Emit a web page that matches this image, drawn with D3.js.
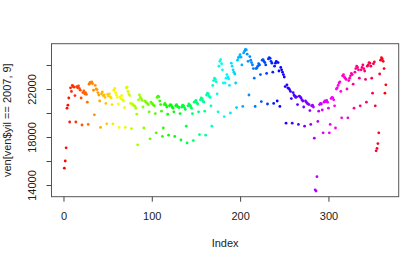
<!DOCTYPE html>
<html>
<head>
<meta charset="utf-8">
<script src="https://cdn.jsdelivr.net/npm/d3@7.9.0/dist/d3.min.js"></script>
<style>
  body { margin: 0; background: #fff; }
  svg text { font-family: "Liberation Sans", Arial, sans-serif; fill: #222; }
</style>
</head>
<body>
<svg id="chart" width="408" height="259"></svg>
<script>
// daily values for 2007, one array per month
const jan = [15400,16000,17100,20400,20650,21250,19250, 22100,21800,22300,22200,22150,21450,19250,
  22200,22100,22250,22050,21900,21250,19000, 21700,21850,21600,21700,21550,20900,19050, 22400,22550,22500];
const feb = [22600,22450,21900,19850, 22300,22000,21950,21700,21500,21000,18800,
  21600,21750,21450,21500,21300,20800,19100, 21550,21400,21600,21350,21250,20700,19100, 21900,22050,21700];
const mar = [21500,21300,20750,18800, 21350,21200,21450,21100,21000,20450,18800,
  22100,22150,21800,21600,21450,20800,18700, 20750,20650,20600,20550,20400,19900,17350,
  21100,21500,21300,21200,21050,20500];
const apr = [18750, 21000,20950,20850,20800,20700,20100,17850, 20900,20800,20750,20650,20600,19950,18350,
  21300,21400,21350,21000,20700,20150,18050, 18750,20700,20800,20650,20500,19900,18150, 20600];
const may = [20700,20650,20500,20400,20100,18050, 20600,20700,20550,20500,20450,19950,17750,
  20500,20650,20600,20450,20300,18900,17500, 20600,20750,20650,20550,20400,19950,17700, 20900,20950,21050,20850];
const jun = [20750,20100,18200, 21100,21250,21200,21000,20900,20150,18150,
  21500,21650,21600,21400,21300,20600,18900, 22300,22700,22900,22800,22600,21600,20100,
  23900,24300,24450,24100,23600,22500];
const jul = [19700, 22500,22900,23200,23000,22850,22300,20000, 24150,23900,23600,23400,23250,22500,20450,
  24400,24600,24700,24850,24650,24000,20550, 25000,25150,25300,25250,24900,24300,21500, 24700,24400];
const aug = [24200,24000,23700,22900,20550, 23700,23750,23900,24100,24000,23200,20950,
  24400,24450,24300,24200,24000,23300,20750, 24500,24600,24550,24300,24150,23400,20800,
  23900,24150,24300,21000,24200];
const sep = [23500,20550, 23800,23600,23400,23200,23000,22200,19150, 22350,22100,22050,21950,21800,21200,19150,
  21700,21500,21400,21300,21350,20700,19050, 21400,21350,21250,21100,21000,20500,18900];
const oct = [21000,20900,20800,20750,20700,20200,19050, 20600,20650,20500,17900,13600,13500,14700,
  19300,20150,20700,20800,20750,20250,18350, 20900,21000,20950,21050,20900,20400,18350, 19050,21200,21300];
const nov = [21250,21100,20600,18750, 22000,22100,22300,22500,22600,21800,19600,
  23100,23200,23000,22900,22800,22000,19600, 22700,22900,23100,23300,23200,22400,20400,
  23400,23700,23900,23800,23600];
const dec = [22900,20600, 23600,23800,24000,23700,23500,22800,20900, 23900,24000,24200,24150,23900,22900,21650,
  24100,24250,20600,16850,17050,17450,18350, 23250,24400,24600,24500,24300,23700,21650, 22350];

const xTicks = [0, 100, 200, 300];
const yTicks = [14000, 16000, 18000, 20000, 22000, 24000];
const yLabelled = [14000, 18000, 22000];

const values = [].concat(jan, feb, mar, apr, may, jun, jul, aug, sep, oct, nov, dec);
const data = values.map((v, i) => ({ index: i + 1, value: v }));

// plot region (R style, 4% padding on both axes)
const box = { left: 51.5, top: 43.7, right: 398.7, bottom: 196.7 };
const pad = (lo, hi) => [lo - 0.04 * (hi - lo), hi + 0.04 * (hi - lo)];

const x = d3.scaleLinear()
  .domain(pad(1, data.length))
  .range([box.left, box.right]);
const yExt = d3.extent(values);
const y = d3.scaleLinear()
  .domain(pad(yExt[0], yExt[1]))
  .range([box.bottom, box.top]);

const n = data.length;
const color = i => d3.hsl(360 * i / n, 1, 0.5).toString();

const svg = d3.select('#chart');

// points
svg.append('g')
  .selectAll('circle')
  .data(data)
  .join('circle')
  .attr('cx', d => x(d.index))
  .attr('cy', d => y(d.value))
  .attr('r', 1.4)
  .attr('fill', (d, i) => color(i));

// box
svg.append('rect')
  .attr('x', box.left)
  .attr('y', box.top)
  .attr('width', box.right - box.left)
  .attr('height', box.bottom - box.top)
  .attr('fill', 'none')
  .attr('stroke', '#555')
  .attr('stroke-width', 1);

// x axis
const xAxis = svg.append('g')
  .attr('transform', `translate(0,${box.bottom})`)
  .call(d3.axisBottom(x).tickValues(xTicks).tickSize(5).tickFormat(d3.format('d')));
xAxis.select('.domain').remove();
xAxis.selectAll('line').attr('stroke', '#444');
xAxis.selectAll('text')
  .attr('y', 19.5)
  .attr('dy', '0.35em')
  .attr('font-size', 11)
  .attr('fill', '#222');

// y axis
const yAxis = svg.append('g')
  .attr('transform', `translate(${box.left},0)`)
  .call(d3.axisLeft(y).tickValues(yTicks).tickSize(5)
    .tickFormat(d => yLabelled.includes(d) ? String(d) : ''));
yAxis.select('.domain').remove();
yAxis.selectAll('line').attr('stroke', '#444');
yAxis.selectAll('text')
  .attr('x', null)
  .attr('dy', null)
  .attr('text-anchor', 'middle')
  .attr('font-size', 11)
  .attr('fill', '#222')
  .attr('transform', 'translate(-19.5,0) rotate(-90)')
  .attr('dy', '0.35em');

// axis titles
svg.append('text')
  .attr('x', (box.left + box.right) / 2)
  .attr('y', 242.7)
  .attr('dy', '0.35em')
  .attr('text-anchor', 'middle')
  .attr('font-size', 11)
  .text('Index');

svg.append('text')
  .attr('transform', `translate(7,${(box.top + box.bottom) / 2}) rotate(-90)`)
  .attr('dy', '0.35em')
  .attr('text-anchor', 'middle')
  .attr('font-size', 11)
  .text('ven[ven$yil == 2007, 9]');
</script>
</body>
</html>
